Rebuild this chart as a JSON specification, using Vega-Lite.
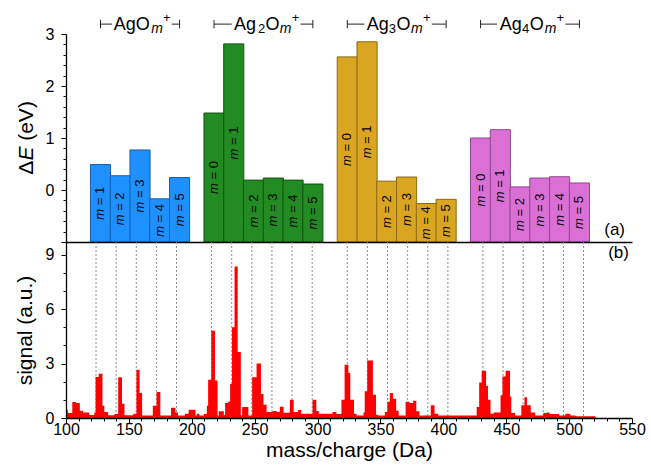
{
  "$schema": "https://vega.github.io/schema/vega-lite/v6.json",
  "background": "white",
  "padding": {"left": 14, "top": 12, "right": 5, "bottom": 4},
  "spacing": 0,
  "bounds": "flush",
  "config": {
    "font": "Liberation Sans",
    "view": {"stroke": null},
    "axis": {"labelFont": "Liberation Sans", "titleFont": "Liberation Sans", "labelFontSize": 16, "titleFontSize": 21, "titleFontWeight": "normal", "labelColor": "black", "titleColor": "black", "domainColor": "black", "tickColor": "black", "grid": false, "domainWidth": 1.3, "tickWidth": 1, "labelOverlap": false}
  },
  "datasets": {
    "clusters": [
      {"group": "AgO", "m": 1, "mass": 123.87, "dE": 0.49},
      {"group": "AgO", "m": 2, "mass": 139.87, "dE": 0.275},
      {"group": "AgO", "m": 3, "mass": 155.87, "dE": 0.77},
      {"group": "AgO", "m": 4, "mass": 171.87, "dE": -0.17},
      {"group": "AgO", "m": 5, "mass": 187.87, "dE": 0.24},
      {"group": "Ag2O", "m": 0, "mass": 215.74, "dE": 1.48},
      {"group": "Ag2O", "m": 1, "mass": 231.74, "dE": 2.81},
      {"group": "Ag2O", "m": 2, "mass": 247.74, "dE": 0.19},
      {"group": "Ag2O", "m": 3, "mass": 263.74, "dE": 0.23},
      {"group": "Ag2O", "m": 4, "mass": 279.74, "dE": 0.19},
      {"group": "Ag2O", "m": 5, "mass": 295.74, "dE": 0.115},
      {"group": "Ag3O", "m": 0, "mass": 323.61, "dE": 2.56},
      {"group": "Ag3O", "m": 1, "mass": 339.61, "dE": 2.85},
      {"group": "Ag3O", "m": 2, "mass": 355.61, "dE": 0.17},
      {"group": "Ag3O", "m": 3, "mass": 371.61, "dE": 0.25},
      {"group": "Ag3O", "m": 4, "mass": 387.61, "dE": -0.26},
      {"group": "Ag3O", "m": 5, "mass": 403.61, "dE": -0.18},
      {"group": "Ag4O", "m": 0, "mass": 431.47, "dE": 1.0},
      {"group": "Ag4O", "m": 1, "mass": 447.47, "dE": 1.16},
      {"group": "Ag4O", "m": 2, "mass": 463.47, "dE": 0.06},
      {"group": "Ag4O", "m": 3, "mass": 479.47, "dE": 0.23},
      {"group": "Ag4O", "m": 4, "mass": 495.47, "dE": 0.255},
      {"group": "Ag4O", "m": 5, "mass": 511.47, "dE": 0.135}
    ],
    "hdr": [
      {"group": "AgO", "piece": "main", "text": "AgO", "mass": 134.6},
      {"group": "AgO", "piece": "msub", "text": "m", "mass": 164.9},
      {"group": "AgO", "piece": "sup", "text": "+", "mass": 174.5},
      {"group": "Ag2O", "piece": "main", "text": "Ag", "mass": 231.9},
      {"group": "Ag2O", "piece": "nsub", "text": "2", "mass": 251.3},
      {"group": "Ag2O", "piece": "main", "text": "O", "mass": 257.4},
      {"group": "Ag2O", "piece": "msub", "text": "m", "mass": 269.0},
      {"group": "Ag2O", "piece": "sup", "text": "+", "mass": 278.6},
      {"group": "Ag3O", "piece": "main", "text": "Ag", "mass": 339.4},
      {"group": "Ag3O", "piece": "nsub", "text": "3", "mass": 357.2},
      {"group": "Ag3O", "piece": "main", "text": "O", "mass": 363.4},
      {"group": "Ag3O", "piece": "msub", "text": "m", "mass": 375.2},
      {"group": "Ag3O", "piece": "sup", "text": "+", "mass": 384.8},
      {"group": "Ag4O", "piece": "main", "text": "Ag", "mass": 447.1},
      {"group": "Ag4O", "piece": "nsub", "text": "4", "mass": 465.0},
      {"group": "Ag4O", "piece": "main", "text": "O", "mass": 471.2},
      {"group": "Ag4O", "piece": "msub", "text": "m", "mass": 483.4},
      {"group": "Ag4O", "piece": "sup", "text": "+", "mass": 493.0}
    ],
    "ytitle": [
      {"piece": "a", "text": "Δ"},
      {"piece": "b", "text": "E"},
      {"piece": "c", "text": "(eV)"}
    ],
    "brackets": [
      {"group": "AgO", "side": "L", "xa": 123.87, "xb": 133.3},
      {"group": "AgO", "side": "R", "xa": 181.5, "xb": 187.87},
      {"group": "Ag2O", "side": "L", "xa": 215.74, "xb": 230.1},
      {"group": "Ag2O", "side": "R", "xa": 285.8, "xb": 295.74},
      {"group": "Ag3O", "side": "L", "xa": 323.61, "xb": 337.5},
      {"group": "Ag3O", "side": "R", "xa": 392.0, "xb": 403.61},
      {"group": "Ag4O", "side": "L", "xa": 431.47, "xb": 445.0},
      {"group": "Ag4O", "side": "R", "xa": 500.2, "xb": 511.47}
    ],
    "spectrum": [
      {"mass": 100, "signal": 0.45}, {"mass": 101.5, "signal": 0.27}, {"mass": 105, "signal": 0.88}, {"mass": 108, "signal": 0.82},
      {"mass": 111, "signal": 0.40}, {"mass": 113.5, "signal": 0.31}, {"mass": 118.5, "signal": 0.16}, {"mass": 122.5, "signal": 0.30},
      {"mass": 123.5, "signal": 2.26}, {"mass": 126, "signal": 2.44}, {"mass": 129, "signal": 0.68}, {"mass": 130.5, "signal": 0.33},
      {"mass": 133.5, "signal": 0.15}, {"mass": 138.5, "signal": 0.22}, {"mass": 141.5, "signal": 2.24}, {"mass": 144.5, "signal": 0.79},
      {"mass": 146.5, "signal": 0.15}, {"mass": 153.5, "signal": 0.24}, {"mass": 156, "signal": 2.66}, {"mass": 158.5, "signal": 1.38},
      {"mass": 160.5, "signal": 0.14}, {"mass": 169, "signal": 0.68}, {"mass": 172, "signal": 1.43}, {"mass": 175, "signal": 0.14},
      {"mass": 183.5, "signal": 0.57}, {"mass": 187, "signal": 0.30}, {"mass": 189, "signal": 0.14}, {"mass": 194.5, "signal": 0.24},
      {"mass": 197.5, "signal": 0.46}, {"mass": 203, "signal": 0.14}, {"mass": 204, "signal": 0.24}, {"mass": 206, "signal": 0.14},
      {"mass": 209.5, "signal": 0.22}, {"mass": 212, "signal": 0.68}, {"mass": 213, "signal": 2.11}, {"mass": 215.5, "signal": 4.81},
      {"mass": 218.5, "signal": 2.06}, {"mass": 220.5, "signal": 0.14}, {"mass": 221.5, "signal": 0.37}, {"mass": 225.5, "signal": 0.16},
      {"mass": 226.5, "signal": 0.82}, {"mass": 229, "signal": 0.91}, {"mass": 230.5, "signal": 1.87}, {"mass": 232, "signal": 5.0},
      {"mass": 234, "signal": 8.35}, {"mass": 236.5, "signal": 3.64}, {"mass": 239, "signal": 0.14}, {"mass": 240, "signal": 0.60},
      {"mass": 245, "signal": 0.14}, {"mass": 248, "signal": 2.25}, {"mass": 251.5, "signal": 3.0}, {"mass": 255, "signal": 1.32},
      {"mass": 257, "signal": 0.73}, {"mass": 259.5, "signal": 0.33}, {"mass": 264, "signal": 0.39}, {"mass": 267.5, "signal": 0.33},
      {"mass": 270, "signal": 0.62}, {"mass": 273, "signal": 0.29}, {"mass": 278, "signal": 1.0}, {"mass": 281, "signal": 0.33},
      {"mass": 284.5, "signal": 0.44}, {"mass": 287, "signal": 0.24}, {"mass": 296, "signal": 1.0}, {"mass": 299, "signal": 0.38},
      {"mass": 301, "signal": 0.23}, {"mass": 312, "signal": 0.33}, {"mass": 315, "signal": 0.22}, {"mass": 319, "signal": 1.0},
      {"mass": 321.5, "signal": 2.94}, {"mass": 324.5, "signal": 2.48}, {"mass": 326, "signal": 1.0}, {"mass": 329, "signal": 0.24},
      {"mass": 331, "signal": 0.14}, {"mass": 336.5, "signal": 0.31}, {"mass": 337.5, "signal": 1.47}, {"mass": 339.5, "signal": 3.17},
      {"mass": 344, "signal": 1.28}, {"mass": 346.5, "signal": 0.18}, {"mass": 348, "signal": 0.14}, {"mass": 353.5, "signal": 0.33},
      {"mass": 355.5, "signal": 0.90}, {"mass": 357.5, "signal": 1.38}, {"mass": 360, "signal": 1.06}, {"mass": 362.5, "signal": 0.40},
      {"mass": 364.5, "signal": 0.14}, {"mass": 370, "signal": 0.90}, {"mass": 373, "signal": 0.82}, {"mass": 376, "signal": 0.95},
      {"mass": 378.5, "signal": 0.37}, {"mass": 381, "signal": 0.14}, {"mass": 390, "signal": 0.70}, {"mass": 393, "signal": 0.23},
      {"mass": 396, "signal": 0.14}, {"mass": 426.5, "signal": 0.60}, {"mass": 428.5, "signal": 1.96}, {"mass": 430.5, "signal": 2.60},
      {"mass": 434, "signal": 1.78}, {"mass": 435.5, "signal": 1.0}, {"mass": 437.5, "signal": 0.23}, {"mass": 440, "signal": 0.31},
      {"mass": 445.5, "signal": 1.25}, {"mass": 447, "signal": 2.29}, {"mass": 449.5, "signal": 2.60}, {"mass": 453, "signal": 1.19},
      {"mass": 454, "signal": 0.27}, {"mass": 457, "signal": 0.14}, {"mass": 462, "signal": 0.70}, {"mass": 464.5, "signal": 1.14},
      {"mass": 466.5, "signal": 0.70}, {"mass": 469.5, "signal": 0.31}, {"mass": 473, "signal": 0.14}, {"mass": 479.5, "signal": 0.27},
      {"mass": 482, "signal": 0.31}, {"mass": 484.5, "signal": 0.22}, {"mass": 492, "signal": 0.14}, {"mass": 497, "signal": 0.24},
      {"mass": 501, "signal": 0.14}, {"mass": 505, "signal": 0.10}, {"mass": 521, "signal": 0.10}
    ]
  },
  "vconcat": [
    {
      "width": 566,
      "height": 208,
      "resolve": {"axis": {"x": "independent", "y": "independent"}},
      "layer": [
        {
          "data": {"name": "clusters"},
          "mark": {"type": "bar", "width": 20.1, "strokeWidth": 1},
          "encoding": {
            "x": {"field": "mass", "type": "quantitative", "scale": {"domain": [100, 550], "nice": false, "zero": false}, "axis": {"orient": "bottom", "title": null, "labels": false, "ticks": false, "domain": true, "zindex": 1}},
            "y": {"field": "dE", "type": "quantitative", "scale": {"domain": [-1, 3], "nice": false, "zero": false},
              "axis": {"orient": "left", "title": null, "values": [-1, 0, 1, 2, 3], "format": "d",
                "labelExpr": "datum.value < 0 ? '' : datum.label",
                "tickSize": 5, "labelPadding": 7}},
            "y2": {"datum": -1},
            "fill": {"field": "group", "type": "nominal", "scale": {"domain": ["AgO", "Ag2O", "Ag3O", "Ag4O"], "range": ["#1e90ff", "#228b22", "#daa520", "#da70d6"]}, "legend": null},
            "stroke": {"field": "group", "type": "nominal", "scale": {"domain": ["AgO", "Ag2O", "Ag3O", "Ag4O"], "range": ["#1a5fa8", "#145214", "#8a6a12", "#8f468c"]}, "legend": null}
          }
        },
        {
          "data": {"name": "clusters"},
          "transform": [{"calculate": "(datum.dE - 1) / 2", "as": "mid"}],
          "mark": {"type": "text", "angle": 270, "align": "right", "baseline": "middle", "dx": -5.6, "fontSize": 13, "fontStyle": "italic", "color": "black"},
          "encoding": {"x": {"field": "mass", "type": "quantitative", "axis": null}, "y": {"field": "mid", "type": "quantitative", "axis": null}, "text": {"value": "m"}}
        },
        {
          "data": {"name": "clusters"},
          "transform": [{"calculate": "(datum.dE - 1) / 2", "as": "mid"}],
          "mark": {"type": "text", "angle": 270, "align": "center", "baseline": "middle", "dx": 1.8, "fontSize": 13, "color": "black"},
          "encoding": {"x": {"field": "mass", "type": "quantitative", "axis": null}, "y": {"field": "mid", "type": "quantitative", "axis": null}, "text": {"value": "="}}
        },
        {
          "data": {"name": "clusters"},
          "transform": [{"calculate": "(datum.dE - 1) / 2", "as": "mid"}],
          "mark": {"type": "text", "angle": 270, "align": "center", "baseline": "middle", "dx": 12.8, "fontSize": 13, "color": "black"},
          "encoding": {"x": {"field": "mass", "type": "quantitative", "axis": null}, "y": {"field": "mid", "type": "quantitative", "axis": null}, "text": {"field": "m", "type": "nominal"}}
        },
        {
          "data": {"name": "hdr"},
          "transform": [{"filter": "datum.piece == 'main'"}],
          "mark": {"type": "text", "align": "left", "baseline": "alphabetic", "fontSize": 18, "color": "black"},
          "encoding": {"x": {"field": "mass", "type": "quantitative", "axis": null}, "y": {"datum": 3.07, "axis": null}, "text": {"field": "text", "type": "nominal"}}
        },
        {
          "data": {"name": "hdr"},
          "transform": [{"filter": "datum.piece == 'nsub'"}],
          "mark": {"type": "text", "align": "left", "baseline": "alphabetic", "fontSize": 13, "dy": 3, "color": "black"},
          "encoding": {"x": {"field": "mass", "type": "quantitative", "axis": null}, "y": {"datum": 3.07, "axis": null}, "text": {"field": "text", "type": "nominal"}}
        },
        {
          "data": {"name": "hdr"},
          "transform": [{"filter": "datum.piece == 'msub'"}],
          "mark": {"type": "text", "align": "left", "baseline": "alphabetic", "fontSize": 14, "fontStyle": "italic", "dy": 3, "color": "black"},
          "encoding": {"x": {"field": "mass", "type": "quantitative", "axis": null}, "y": {"datum": 3.07, "axis": null}, "text": {"field": "text", "type": "nominal"}}
        },
        {
          "data": {"name": "hdr"},
          "transform": [{"filter": "datum.piece == 'sup'"}],
          "mark": {"type": "text", "align": "left", "baseline": "alphabetic", "fontSize": 13, "dy": -8, "color": "black"},
          "encoding": {"x": {"field": "mass", "type": "quantitative", "axis": null}, "y": {"datum": 3.07, "axis": null}, "text": {"field": "text", "type": "nominal"}}
        },
        {
          "data": {"name": "brackets"},
          "mark": {"type": "rule", "color": "#222", "strokeWidth": 1},
          "encoding": {"x": {"field": "xa", "type": "quantitative", "axis": null}, "x2": {"field": "xb"}, "y": {"datum": 3.19, "axis": null}}
        },
        {
          "data": {"name": "brackets"},
          "transform": [{"filter": "datum.side == 'L'"}],
          "mark": {"type": "rule", "color": "#222", "strokeWidth": 1},
          "encoding": {"x": {"field": "xa", "type": "quantitative", "axis": null}, "y": {"datum": 3.27, "axis": null}, "y2": {"datum": 3.11}}
        },
        {
          "data": {"name": "brackets"},
          "transform": [{"filter": "datum.side == 'R'"}],
          "mark": {"type": "rule", "color": "#222", "strokeWidth": 1},
          "encoding": {"x": {"field": "xb", "type": "quantitative", "axis": null}, "y": {"datum": 3.27, "axis": null}, "y2": {"datum": 3.11}}
        },
        {
          "data": {"name": "ytitle"},
          "transform": [{"filter": "datum.piece == 'a'"}],
          "mark": {"type": "text", "angle": 270, "align": "left", "baseline": "alphabetic", "fontSize": 21, "dx": -36.8, "color": "black"},
          "encoding": {"x": {"datum": 69.0, "axis": null}, "y": {"datum": 1.0, "axis": null}, "text": {"field": "text", "type": "nominal"}}
        },
        {
          "data": {"name": "ytitle"},
          "transform": [{"filter": "datum.piece == 'b'"}],
          "mark": {"type": "text", "angle": 270, "align": "left", "baseline": "alphabetic", "fontSize": 21, "fontStyle": "italic", "dx": -22.6, "color": "black"},
          "encoding": {"x": {"datum": 69.0, "axis": null}, "y": {"datum": 1.0, "axis": null}, "text": {"field": "text", "type": "nominal"}}
        },
        {
          "data": {"name": "ytitle"},
          "transform": [{"filter": "datum.piece == 'c'"}],
          "mark": {"type": "text", "angle": 270, "align": "left", "baseline": "alphabetic", "fontSize": 21, "dx": -2.8, "color": "black"},
          "encoding": {"x": {"datum": 69.0, "axis": null}, "y": {"datum": 1.0, "axis": null}, "text": {"field": "text", "type": "nominal"}}
        },
        {
          "data": {"values": [{"label": "(a)"}]},
          "mark": {"type": "text", "align": "right", "baseline": "middle", "fontSize": 17, "color": "black"},
          "encoding": {
            "x": {"datum": 548.4, "axis": null},
            "y": {"datum": -0.76, "axis": {"orient": "left", "title": null, "labels": false, "domain": false, "tickSize": 3,
              "values": [-0.8, -0.6, -0.4, -0.2, 0.2, 0.4, 0.6, 0.8, 1.2, 1.4, 1.6, 1.8, 2.2, 2.4, 2.6, 2.8]}},
            "text": {"field": "label", "type": "nominal"}
          }
        }
      ]
    },
    {
      "width": 566,
      "height": 176,
      "resolve": {"axis": {"x": "independent", "y": "independent"}},
      "layer": [
        {
          "data": {"name": "clusters"},
          "mark": {"type": "rule", "color": "#8c8c8c", "strokeDash": [2, 2], "strokeWidth": 1},
          "encoding": {
            "x": {"field": "mass", "type": "quantitative", "scale": {"domain": [100, 550], "nice": false, "zero": false},
              "axis": {"orient": "bottom", "title": null, "labels": false, "domain": false, "tickSize": 3, "zindex": 1,
                "values": [110, 120, 130, 140, 160, 170, 180, 190, 210, 220, 230, 240, 260, 270, 280, 290, 310, 320, 330, 340, 360, 370, 380, 390, 410, 420, 430, 440, 460, 470, 480, 490, 510, 520, 530, 540]}}
          }
        },
        {
          "data": {"name": "spectrum"},
          "mark": {"type": "area", "interpolate": "step-after", "color": "#ff0000"},
          "encoding": {
            "x": {"field": "mass", "type": "quantitative", "scale": {"domain": [100, 550], "nice": false, "zero": false},
              "axis": {"orient": "bottom", "title": "mass/charge (Da)", "values": [100, 150, 200, 250, 300, 350, 400, 450, 500, 550],
                "format": "d", "tickSize": 5, "labelPadding": -2, "labelFlush": false, "zindex": 1, "titlePadding": 2}},
            "y": {"field": "signal", "type": "quantitative", "scale": {"domain": [0, 9.7], "nice": false, "zero": false},
              "axis": {"orient": "left", "title": "signal (a.u.)", "values": [0, 3, 6, 9], "format": "d",
                "tickSize": 5, "labelPadding": 7, "titlePadding": 10, "zindex": 1}}
          }
        },
        {
          "data": {"values": [{"label": "(b)"}]},
          "mark": {"type": "text", "align": "right", "baseline": "middle", "fontSize": 17, "color": "black"},
          "encoding": {
            "x": {"datum": 547.6, "axis": null},
            "y": {"datum": 9.11, "axis": {"orient": "left", "title": null, "labels": false, "domain": false, "tickSize": 3, "values": [1, 2, 4, 5, 7, 8]}},
            "text": {"field": "label", "type": "nominal"}
          }
        }
      ]
    }
  ]
}
